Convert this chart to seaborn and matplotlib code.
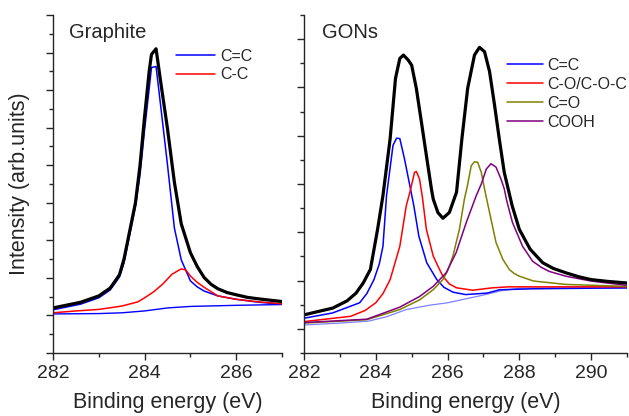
import pandas as pd
import matplotlib
matplotlib.use("Agg")
import matplotlib.pyplot as plt
import seaborn as sns
from matplotlib.ticker import MultipleLocator

# Graphite C1s fit (binding energy in eV, intensity in arb. units)
gr_total_e = [282.0, 282.6, 283.0, 283.25, 283.45, 283.55, 283.65, 283.8, 283.9, 284.0, 284.1, 284.15,
              284.25, 284.35, 284.5, 284.65, 284.8, 285.0, 285.15, 285.3, 285.45, 285.6, 285.8,
              286.0, 286.25, 286.5, 287.0]
gr_total_i = [1.20, 1.35, 1.52, 1.73, 2.08, 2.5, 3.10, 4.0, 5.0, 6.3, 7.5, 7.95,
              8.1, 7.23, 5.97, 4.55, 3.44, 2.67, 2.3, 2.01, 1.83, 1.71, 1.61,
              1.55, 1.48, 1.44, 1.37]
gr_cc_e = [282.0, 282.6, 283.0, 283.25, 283.45, 283.55, 283.65, 283.8, 283.9, 284.0, 284.1, 284.15,
           284.25, 284.35, 284.5, 284.65, 284.8, 285.0, 285.15, 285.3, 285.6, 286.0, 286.5, 287.0]
gr_cc_i = [1.15, 1.30, 1.47, 1.68, 2.02, 2.4, 3.0, 3.9, 4.75, 5.95, 7.04, 7.6,
           7.63, 6.59, 5.01, 3.33, 2.48, 1.92, 1.76, 1.65, 1.52, 1.43, 1.35, 1.30]
gr_c_c_e = [282.0, 282.5, 283.0, 283.5, 283.85, 284.0, 284.2, 284.4, 284.6, 284.8, 284.9,
            285.0, 285.15, 285.3, 285.6, 286.0, 286.5, 287.0]
gr_c_c_i = [1.07, 1.12, 1.16, 1.25, 1.36, 1.47, 1.63, 1.84, 2.10, 2.24, 2.21,
            2.05, 1.88, 1.75, 1.52, 1.43, 1.36, 1.31]
gr_bg_e = [282.0, 283.0, 283.5, 284.0, 284.5, 285.0, 286.0, 287.0]
gr_bg_i = [1.04, 1.05, 1.07, 1.12, 1.20, 1.24, 1.27, 1.29]

# GONs C1s fit
gon_total_e = [282.0, 282.8, 283.2, 283.45, 283.65, 283.85, 284.05, 284.2, 284.4, 284.55, 284.67, 284.77,
               284.9, 285.0, 285.13, 285.27, 285.41, 285.55, 285.6, 285.73, 285.87, 286.05,
               286.25, 286.4, 286.56, 286.75, 286.89, 287.03, 287.17, 287.31, 287.44, 287.58,
               287.8, 288.0, 288.3, 288.65, 288.95, 289.3, 289.65, 290.0, 290.5, 291.0]
gon_total_i = [0.29, 0.43, 0.58, 0.74, 0.95, 1.23, 2.06, 2.76, 3.94, 5.19, 5.60, 5.67,
               5.57, 5.46, 4.98, 4.29, 3.59, 2.90, 2.69, 2.41, 2.29, 2.41,
               2.83, 3.94, 4.98, 5.67, 5.83, 5.74, 5.33, 4.63, 3.94, 3.24,
               2.55, 2.06, 1.65, 1.37, 1.25, 1.16, 1.08, 1.02, 0.98, 0.95]
gon_cc_e = [282.0, 282.8, 283.55, 283.75, 283.95, 284.1, 284.2, 284.3, 284.48, 284.58, 284.67, 284.8,
            284.94, 285.06, 285.2, 285.42, 285.7, 285.9, 286.15, 286.5, 287.1, 287.45, 288.4, 291.0]
gon_cc_i = [0.22, 0.33, 0.54, 0.73, 1.02, 1.35, 1.71, 2.76, 3.80, 3.95, 3.94, 3.52,
            3.0, 2.55, 1.92, 1.37, 1.02, 0.86, 0.76, 0.71, 0.74, 0.81, 0.83, 0.85]
gon_co_e = [282.0, 283.3, 283.7, 284.0, 284.2, 284.4, 284.67, 284.85, 284.95, 285.08, 285.13, 285.22,
            285.3, 285.41, 285.6, 285.75, 285.87, 286.05, 286.25, 286.7, 287.25, 287.7, 291.0]
gon_co_i = [0.15, 0.26, 0.38, 0.54, 0.73, 1.02, 1.71, 2.55, 2.83, 3.24, 3.26, 3.10,
            2.72, 2.06, 1.51, 1.27, 1.09, 0.93, 0.85, 0.80, 0.85, 0.87, 0.87]
gon_c_o_e = [282.0, 283.75, 284.67, 285.22, 285.6, 285.87, 286.0, 286.15, 286.33, 286.47, 286.55,
             286.66, 286.75, 286.84, 286.94, 287.03, 287.17, 287.35, 287.54, 287.72, 287.85, 288.0,
             288.4, 289.3, 291.0]
gon_c_o_i = [0.12, 0.19, 0.40, 0.60, 0.81, 1.02, 1.2, 1.51, 2.06, 2.69, 2.95,
             3.38, 3.46, 3.45, 3.24, 2.90, 2.41, 1.79, 1.44, 1.23, 1.15, 1.09,
             0.99, 0.92, 0.88]
gon_cooh_e = [282.0, 283.75, 284.67, 285.22, 285.6, 285.96, 286.24, 286.52, 286.8, 286.94,
              287.08, 287.21, 287.35, 287.49, 287.58, 287.65, 287.72, 287.81, 288.09, 288.37,
              288.6, 288.83, 289.3, 290.0, 291.0]
gon_cooh_i = [0.13, 0.20, 0.45, 0.67, 0.88, 1.16, 1.58, 2.20, 2.76, 3.0,
              3.31, 3.42, 3.35, 3.10, 2.90, 2.65, 2.45, 2.20, 1.71, 1.40,
              1.28, 1.19, 1.09, 0.99, 0.90]
gon_bg_e = [282.0, 283.0, 283.8, 284.3, 284.85, 285.5, 286.0, 286.5, 287.0, 287.5, 288.0, 289.0, 291.0]
gon_bg_i = [0.08, 0.12, 0.16, 0.25, 0.40, 0.49, 0.54, 0.62, 0.70, 0.79, 0.84, 0.85, 0.84]

sns.set_style("ticks")
plt.rcParams['font.family'] = ['Liberation Sans', 'DejaVu Sans']
plt.rcParams['axes.linewidth'] = 1.0


def draw(ax, e, i, color, lw, alpha=1.0):
    df = pd.DataFrame({'E': e, 'I': i})
    sns.lineplot(data=df, x='E', y='I', ax=ax, color=color, linewidth=lw, alpha=alpha,
                 solid_joinstyle='round', solid_capstyle='round')
    return ax.lines[-1]


def style_axes(ax, xmax, ymin, ymax):
    ax.set_xlim(282, xmax)
    ax.set_ylim(ymin, ymax)
    ax.xaxis.set_major_locator(MultipleLocator(2))
    ax.xaxis.set_minor_locator(MultipleLocator(1))
    ax.yaxis.set_major_locator(MultipleLocator(1))
    ax.yaxis.set_minor_locator(MultipleLocator(0.5))
    ax.tick_params(which='major', length=5, width=1, direction='out', labelsize=14, pad=4)
    ax.tick_params(which='minor', length=3, width=1, direction='out')
    ax.tick_params(axis='y', labelleft=False)
    ax.set_xlabel('Binding energy (eV)', fontsize=15.5, labelpad=7)
    ax.set_ylabel('')
    sns.despine(ax=ax)


fig = plt.figure(figsize=(6.29, 4.16), dpi=100)
ax1 = fig.add_axes([53 / 629, 63 / 416, 229 / 629, 338 / 416])
ax2 = fig.add_axes([304 / 629, 63 / 416, 323 / 629, 338 / 416])

# Graphite panel
draw(ax1, gr_bg_e, gr_bg_i, '#0000ff', 1.0)
h1 = draw(ax1, gr_cc_e, gr_cc_i, '#0000ff', 1.1)
h2 = draw(ax1, gr_c_c_e, gr_c_c_i, '#ff0000', 1.1)
draw(ax1, gr_total_e, gr_total_i, 'black', 2.3)
style_axes(ax1, 287, 0, 9)
ax1.set_ylabel('Intensity (arb.units)', fontsize=15.5)
ax1.yaxis.set_label_coords(-0.10, 0.5)
ax1.text(69 / 629, 1 - 38 / 416, 'Graphite', transform=fig.transFigure, fontsize=14.5)
ax1.legend([h1, h2], ['C=C', 'C-C'], loc='upper left', frameon=False, fontsize=11.5,
           bbox_to_anchor=(176 / 629, 1 - 49 / 416), bbox_transform=fig.transFigure,
           borderpad=0, borderaxespad=0, handlelength=2.45, handletextpad=0.3, labelspacing=0.2)

# GONs panel
draw(ax2, gon_bg_e, gon_bg_i, '#0000ff', 0.9, alpha=0.5)
g1 = draw(ax2, gon_cc_e, gon_cc_i, '#0000ff', 1.1)
g2 = draw(ax2, gon_co_e, gon_co_i, '#ff0000', 1.1)
g3 = draw(ax2, gon_c_o_e, gon_c_o_i, '#808000', 1.1)
g4 = draw(ax2, gon_cooh_e, gon_cooh_i, '#800080', 1.1)
draw(ax2, gon_total_e, gon_total_i, 'black', 2.3)
style_axes(ax2, 291, -0.5, 6.5)
ax2.text(322 / 629, 1 - 38 / 416, 'GONs', transform=fig.transFigure, fontsize=14.5)
ax2.legend([g1, g2, g3, g4], ['C=C', 'C-O/C-O-C', 'C=O', 'COOH'], loc='upper left',
           frameon=False, fontsize=11.5,
           bbox_to_anchor=(507 / 629, 1 - 58 / 416), bbox_transform=fig.transFigure,
           borderpad=0, borderaxespad=0, handlelength=2.25, handletextpad=0.3, labelspacing=0.25)

fig.savefig('out.png', dpi=100)
